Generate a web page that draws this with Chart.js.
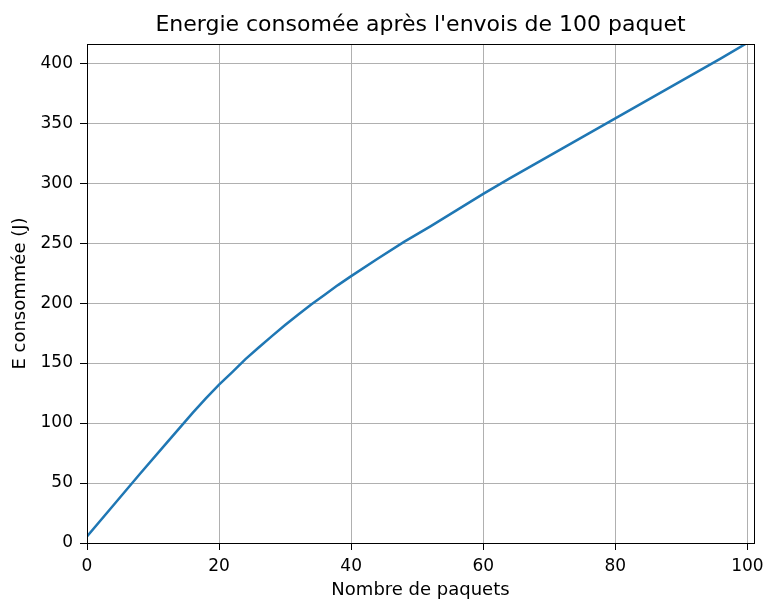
<!DOCTYPE html>
<html>
<head>
<meta charset="utf-8">
<script src="https://cdn.jsdelivr.net/npm/chart.js@4.4.1/dist/chart.umd.min.js"></script>
<style>
  html, body { margin: 0; padding: 0; background: #fff; }
  #wrap { width: 764px; height: 599px; }
</style>
</head>
<body>
<div id="wrap"><canvas id="energyChart" width="764" height="599"></canvas></div>
<script>
const packets = [0, 4, 8, 12, 16, 18, 20, 22, 24, 26, 28, 30, 32, 34, 36, 38, 40, 44, 48, 52, 56, 60, 64, 68, 72, 76, 80, 84, 88, 92, 96, 100];
const energy = [5.5, 31.5, 57.5, 83, 108.5, 120.5, 132, 142.5, 153.3, 163, 172.5, 181.7, 190.5, 199, 207, 215, 222.5, 237, 251, 264, 277.5, 291, 304, 316.5, 329, 341.5, 354, 366.5, 379, 391.5, 404, 417];
const xTicks = [0, 20, 40, 60, 80, 100];
const yTicks = [0, 50, 100, 150, 200, 250, 300, 350, 400];

const titleText = "Energie consomée après l'envois de 100 paquet";
const xLabel = "Nombre de paquets";
const yLabel = "E consommée (J)";

const fontFamily = "'DejaVu Sans', sans-serif";

// black frame round the plot area, like matplotlib spines
const framePlugin = {
  id: "frame",
  afterDraw(chart) {
    const { ctx, chartArea } = chart;
    ctx.save();
    ctx.strokeStyle = "#000";
    ctx.lineWidth = 1;
    ctx.strokeRect(
      Math.round(chartArea.left) + 0.5,
      Math.round(chartArea.top) + 0.5,
      Math.round(chartArea.right - chartArea.left),
      Math.round(chartArea.bottom - chartArea.top),
    );
    ctx.restore();
  },
};

new Chart(document.getElementById("energyChart"), {
  type: "line",
  data: {
    datasets: [
      {
        data: packets.map((x, i) => ({ x: x, y: energy[i] })),
        borderColor: "#1f77b4",
        borderWidth: 2.5,
        pointRadius: 0,
        tension: 0,
        fill: false,
      },
    ],
  },
  options: {
    responsive: false,
    animation: false,
    devicePixelRatio: 1,
    layout: { padding: { left: 0, right: 10, top: 0, bottom: 0 } },
    plugins: {
      legend: { display: false },
      tooltip: { enabled: false },
      title: {
        display: true,
        fullSize: false,
        text: titleText,
        color: "#000",
        font: { family: fontFamily, size: 22, weight: "normal", lineHeight: 1.2 },
        padding: { top: 12, bottom: 5.6 },
      },
    },
    scales: {
      x: {
        type: "linear",
        min: 0,
        max: 101,
        afterBuildTicks(scale) {
          scale.ticks = xTicks.map((v) => ({ value: v }));
        },
        afterFit(scale) {
          scale.height = 56;
          // let the "100" label run past the edge, as in the original
          scale.paddingLeft = 0;
          scale.paddingRight = 0;
        },
        ticks: {
          includeBounds: false,
          maxRotation: 0,
          color: "#000",
          padding: 6,
          font: { family: fontFamily, size: 17 },
        },
        grid: { color: "#b0b0b0", lineWidth: 1, tickColor: "#000", tickLength: 7 },
        border: { color: "#000", width: 1 },
        title: {
          display: true,
          text: xLabel,
          color: "#000",
          font: { family: fontFamily, size: 18, lineHeight: 1 },
          padding: { top: 0, bottom: 0 },
        },
      },
      y: {
        type: "linear",
        min: 0,
        max: 416,
        afterBuildTicks(scale) {
          scale.ticks = yTicks.map((v) => ({ value: v }));
        },
        afterFit(scale) {
          scale.width = 87;
        },
        ticks: {
          includeBounds: false,
          color: "#000",
          padding: 7,
          font: { family: fontFamily, size: 17 },
        },
        grid: { color: "#b0b0b0", lineWidth: 1, tickColor: "#000", tickLength: 7 },
        border: { color: "#000", width: 1 },
        title: {
          display: true,
          text: yLabel,
          color: "#000",
          font: { family: fontFamily, size: 18, lineHeight: 1 },
          padding: { top: 11, bottom: 0 },
        },
      },
    },
  },
  plugins: [framePlugin],
});
</script>
</body>
</html>
